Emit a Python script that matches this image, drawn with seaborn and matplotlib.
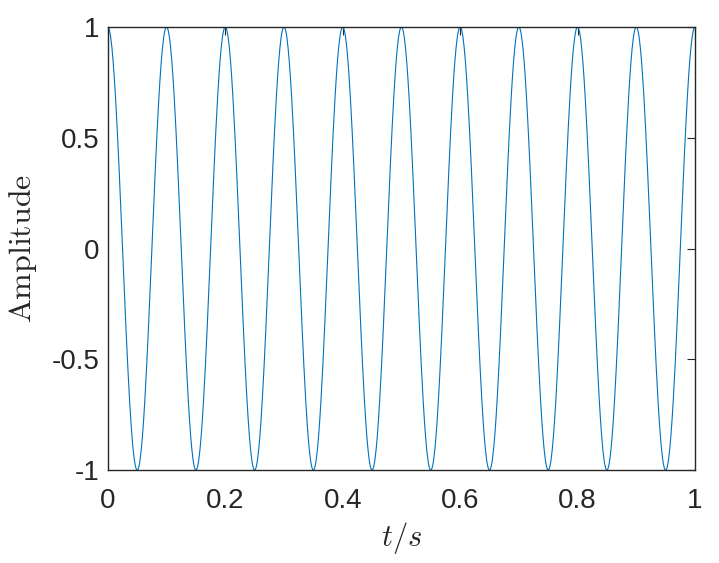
import numpy as np
import matplotlib
matplotlib.use('Agg')
import matplotlib.pyplot as plt
import seaborn as sns

# signal: cosine, 10 peaks per second, unit amplitude
freq_hz = 10
amplitude = 1.0
duration_s = 1.0
fs = 1000

t = np.linspace(0, duration_s, int(fs * duration_s) + 1)
y = amplitude * np.cos(2 * np.pi * freq_hz * t)

x_ticks = [0, 0.2, 0.4, 0.6, 0.8, 1]
x_tick_labels = ['0', '0.2', '0.4', '0.6', '0.8', '1']
y_ticks = [-1, -0.5, 0, 0.5, 1]
y_tick_labels = ['-1', '-0.5', '0', '0.5', '1']

sns.set_style('white')
plt.rcParams['font.family'] = ['Liberation Sans', 'DejaVu Sans']
plt.rcParams['mathtext.fontset'] = 'cm'

fig = plt.figure(figsize=(7.19, 5.63), dpi=100)
ax = fig.add_axes([0.150, 0.165, 0.8166, 0.787])

sns.lineplot(x=t, y=y, ax=ax, color='#0072BD', linewidth=0.8)

ax.set_xlim(0, 1)
ax.set_ylim(-1, 1)
ax.set_xticks(x_ticks)
ax.set_xticklabels(x_tick_labels)
ax.set_yticks(y_ticks)
ax.set_yticklabels(y_tick_labels)
ax.tick_params(direction='in', length=6, width=0.8, labelsize=20,
               top=True, right=True, colors='#262626', labelcolor='#262626')
ax.tick_params(axis='x', pad=13)
ax.tick_params(axis='y', pad=6)

for s in ax.spines.values():
    s.set_visible(True)
    s.set_linewidth(1.0)
    s.set_color('#262626')

ax.set_xlabel(r'$t/s$', fontsize=22, labelpad=4)
ax.set_ylabel(r'$\mathrm{Amplitude}$', fontsize=23, labelpad=9)

fig.savefig('out.png', dpi=100)
